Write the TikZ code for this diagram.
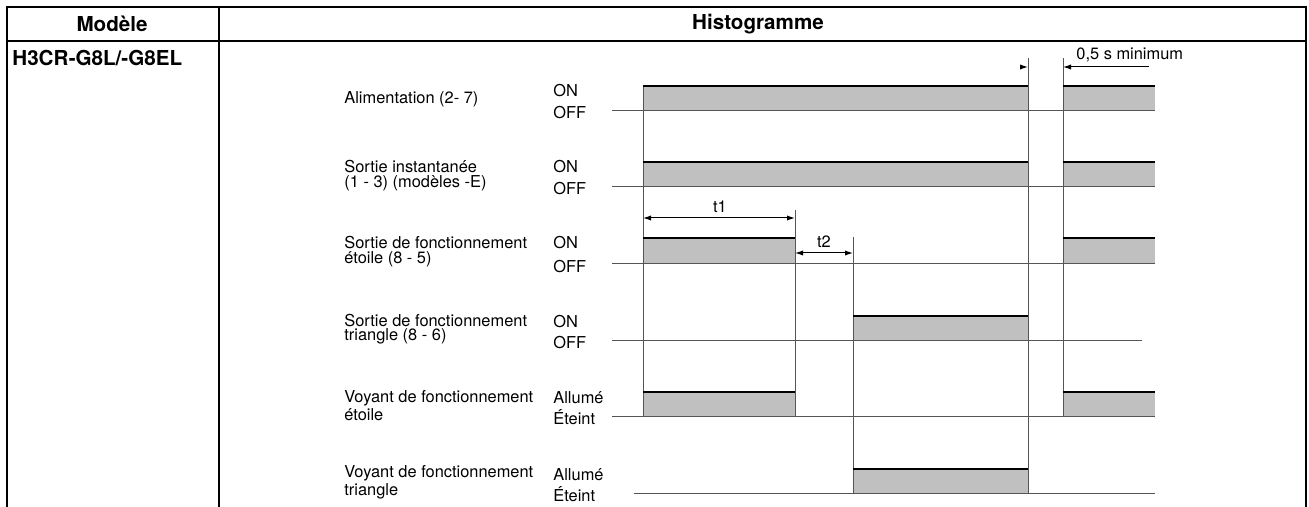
\documentclass[tikz,border=0pt]{standalone}
\usepackage{fontspec}
\setmainfont{TeX Gyre Heros}
\usetikzlibrary{arrows.meta}
\definecolor{gris}{RGB}{192,192,192}
\definecolor{trait}{RGB}{85,85,85}

\begin{document}
\begin{tikzpicture}[x=0.5pt,y=-0.5pt,
  >={Latex[length=4pt,width=2.6pt]},
  cadre/.style={line width=1.4pt},
  titre/.style={font=\bfseries\fontsize{10.3}{12}\selectfont, inner sep=0pt},
  etiq/.style={font=\fontsize{8.2}{6.1}\selectfont, inner sep=0pt, anchor=west, align=left},
  etat/.style={font=\fontsize{8.2}{6.1}\selectfont, inner sep=0pt, anchor=base west},
  base/.style={draw=trait, line width=0.5pt},
  haut/.style={line width=1pt},
  repere/.style={draw=trait, line width=0.5pt},
  cote/.style={line width=0.5pt}]
\useasboundingbox (0,0) rectangle (1309,507);

% Instants du chronogramme
\def\ta{643}
\def\tb{795}
\def\tc{853}
\def\td{1028}
\def\te{1063}
\def\tf{1155}

% Tableau
\draw[cadre] (7,507) -- (7,7) -- (1306,7) -- (1306,507);
\draw[cadre] (7,41) -- (1306,41);
\draw[cadre] (219,7) -- (219,507);
\node[titre] (modele) at (112,24) {Modèle};
\node[titre] (histo) at (758,24) {Histogramme};
\node[titre, anchor=west] (ref) at (12,58) {H3CR-G8L/-G8EL};

% Zones à l'état haut
\fill[gris] (\ta,86) rectangle (\td,111);
\fill[gris] (\te,86) rectangle (\tf,111);
\fill[gris] (\ta,162) rectangle (\td,187);
\fill[gris] (\te,162) rectangle (\tf,187);
\fill[gris] (\ta,238) rectangle (\tb,264);
\fill[gris] (\te,238) rectangle (\tf,264);
\fill[gris] (\tc,316) rectangle (\td,340);
\fill[gris] (\ta,392) rectangle (\tb,416);
\fill[gris] (\te,392) rectangle (\tf,416);
\fill[gris] (\tc,469) rectangle (\td,493);

% Lignes de repos
\draw[base] (612,111) -- (\tf,111);
\draw[base] (612,187) -- (\tf,187);
\draw[base] (612,264) -- (\tf,264);
\draw[base] (612,340) -- (1142,340);
\draw[base] (612,416) -- (\tf,416);
\draw[base] (634,493) -- (\tf,493);

% Fronts verticaux
\draw[repere] (\ta,86) -- (\ta,416);
\draw[repere] (\tb,210) -- (\tb,416);
\draw[repere] (\tc,237) -- (\tc,493);
\draw[repere] (\td,58) -- (\td,493);
\draw[repere] (\te,58) -- (\te,416);

% Niveaux hauts
\draw[haut] (\ta,86) -- (\td,86);
\draw[haut] (\te,86) -- (\tf,86);
\draw[haut] (\ta,162) -- (\td,162);
\draw[haut] (\te,162) -- (\tf,162);
\draw[haut] (\ta,238) -- (\tb,238);
\draw[haut] (\te,238) -- (\tf,238);
\draw[haut] (\tc,316) -- (\td,316);
\draw[haut] (\ta,392) -- (\tb,392);
\draw[haut] (\te,392) -- (\tf,392);
\draw[haut] (\tc,469) -- (\td,469);

% Cotes t1, t2 et 0,5 s
\coordinate (t1a) at (\ta,218);
\coordinate (t1b) at (\tb,218);
\draw[cote,<->] (t1a) -- (t1b);
\node[etat, anchor=center] (t1) at (720,207) {t1};
\coordinate (t2a) at (\tb,253);
\coordinate (t2b) at (\tc,253);
\draw[cote,<->] (t2a) -- (t2b);
\node[etat, anchor=center] (t2) at (824,242) {t2};
\coordinate (cga) at (1020,67);
\coordinate (cgb) at (\td,67);
\coordinate (cda) at (1149,67);
\coordinate (cdb) at (\te,67);
\draw[cote,->] (cga) -- (cgb);
\draw[cote,->] (cda) -- (cdb);
\node[etat, anchor=west] (mini) at (1076,55) {0,5 s minimum};

% Libellés des signaux
\node[etiq] (alim) at (344,99.5) {Alimentation (2- 7)};
\node[etiq] (inst) at (344,175.5) {Sortie instantanée\\(1 - 3) (modèles -E)};
\node[etiq] (etoile) at (344,251.5) {Sortie de fonctionnement\\étoile (8 - 5)};
\node[etiq] (triangle) at (344,329.5) {Sortie de fonctionnement\\triangle (8 - 6)};
\node[etiq] (vetoile) at (344,405.5) {Voyant de fonctionnement\\étoile};
\node[etiq] (vtriangle) at (344,482.5) {Voyant de fonctionnement\\triangle};

% Etats
\node[etat] (on1) at (553,97) {ON};
\node[etat] (off1) at (553,119) {OFF};
\node[etat] (on2) at (553,173) {ON};
\node[etat] (off2) at (553,195) {OFF};
\node[etat] (on3) at (553,249) {ON};
\node[etat] (off3) at (553,272) {OFF};
\node[etat] (on4) at (553,327) {ON};
\node[etat] (off4) at (553,348) {OFF};
\node[etat] (on5) at (553,403) {Allumé};
\node[etat] (off5) at (553,424) {Éteint};
\node[etat] (on6) at (553,480) {Allumé};
\node[etat] (off6) at (553,501) {Éteint};

\end{tikzpicture}
\end{document}
